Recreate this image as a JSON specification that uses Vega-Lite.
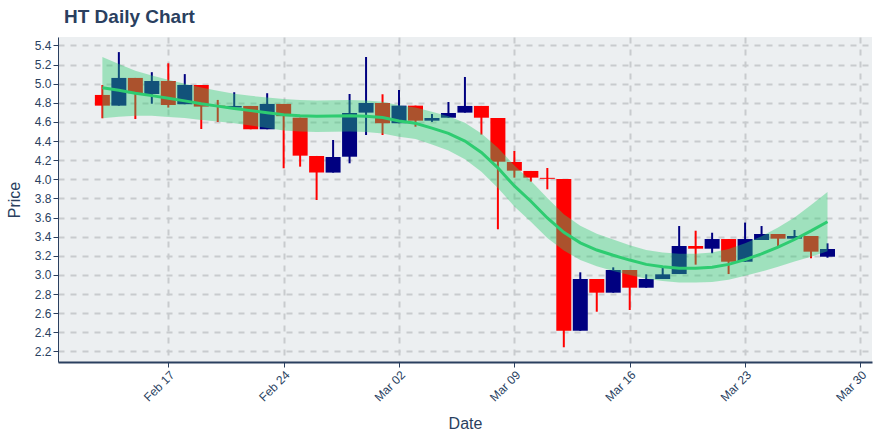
{
  "$schema": "https://vega.github.io/schema/vega-lite/v6.json",
  "autosize": "none",
  "width": 814,
  "height": 325,
  "padding": {"left": 58, "top": 37, "right": 8, "bottom": 78},
  "background": "white",
  "title": {"text": "HT Daily Chart", "anchor": "start", "frame": "group", "offset": 10, "dx": 6, "fontSize": 19, "fontWeight": "bold", "color": "#2a3f5f", "font": "Liberation Sans"},
  "config": {
    "view": {"fill": "#ECEFF1", "stroke": null},
    "axis": {"labelFont": "Liberation Sans", "titleFont": "Liberation Sans", "labelFontSize": 12, "labelColor": "#2a3f5f", "titleColor": "#2a3f5f", "titleFontSize": 16, "titleFontWeight": "normal", "domainColor": "#2a3f5f", "tickColor": "#2a3f5f", "gridColor": "#C8CBCE", "gridDash": [6, 6], "gridWidth": 2, "tickSize": 5, "labelOverlap": false},
    "axisY": {"labelOverlap": false, "labelFontSize": 12},
    "axisQuantitative": {"labelOverlap": false}
  },
  "datasets": {
    "ohlc": [
      {"date": "2020-02-13", "open": 4.882, "high": 4.986, "low": 4.638, "close": 4.77},
      {"date": "2020-02-14", "open": 4.77, "high": 5.33, "low": 4.77, "close": 5.06},
      {"date": "2020-02-15", "open": 5.06, "high": 5.06, "low": 4.63, "close": 4.9},
      {"date": "2020-02-16", "open": 4.892, "high": 5.12, "low": 4.79, "close": 5.028},
      {"date": "2020-02-17", "open": 5.028, "high": 5.213, "low": 4.75, "close": 4.777},
      {"date": "2020-02-18", "open": 4.785, "high": 5.1, "low": 4.785, "close": 4.986},
      {"date": "2020-02-19", "open": 4.986, "high": 4.986, "low": 4.526, "close": 4.76},
      {"date": "2020-02-20", "open": 4.77, "high": 4.83, "low": 4.6, "close": 4.765},
      {"date": "2020-02-21", "open": 4.75, "high": 4.91, "low": 4.75, "close": 4.767},
      {"date": "2020-02-22", "open": 4.767, "high": 4.767, "low": 4.523, "close": 4.523},
      {"date": "2020-02-23", "open": 4.523, "high": 4.9, "low": 4.523, "close": 4.788},
      {"date": "2020-02-24", "open": 4.788, "high": 4.788, "low": 4.115, "close": 4.66},
      {"date": "2020-02-25", "open": 4.644, "high": 4.644, "low": 4.132, "close": 4.247},
      {"date": "2020-02-26", "open": 4.244, "high": 4.244, "low": 3.783, "close": 4.07},
      {"date": "2020-02-27", "open": 4.07, "high": 4.411, "low": 4.07, "close": 4.233},
      {"date": "2020-02-28", "open": 4.236, "high": 4.892, "low": 4.167, "close": 4.693},
      {"date": "2020-02-29", "open": 4.697, "high": 5.279, "low": 4.463, "close": 4.798},
      {"date": "2020-03-01", "open": 4.798, "high": 4.889, "low": 4.463, "close": 4.586},
      {"date": "2020-03-02", "open": 4.586, "high": 4.934, "low": 4.586, "close": 4.77},
      {"date": "2020-03-03", "open": 4.77, "high": 4.77, "low": 4.55, "close": 4.613},
      {"date": "2020-03-04", "open": 4.613, "high": 4.683, "low": 4.6, "close": 4.641},
      {"date": "2020-03-05", "open": 4.644, "high": 4.808, "low": 4.644, "close": 4.693},
      {"date": "2020-03-06", "open": 4.697, "high": 5.07, "low": 4.697, "close": 4.767},
      {"date": "2020-03-07", "open": 4.767, "high": 4.767, "low": 4.467, "close": 4.644},
      {"date": "2020-03-08", "open": 4.641, "high": 4.641, "low": 3.477, "close": 4.184},
      {"date": "2020-03-09", "open": 4.181, "high": 4.296, "low": 4.017, "close": 4.09},
      {"date": "2020-03-10", "open": 4.087, "high": 4.087, "low": 3.975, "close": 4.017},
      {"date": "2020-03-11", "open": 4.015, "high": 4.118, "low": 3.895, "close": 4.005},
      {"date": "2020-03-12", "open": 4.003, "high": 4.003, "low": 2.243, "close": 2.416},
      {"date": "2020-03-13", "open": 2.416, "high": 3.027, "low": 2.416, "close": 2.957},
      {"date": "2020-03-14", "open": 2.957, "high": 2.957, "low": 2.615, "close": 2.814},
      {"date": "2020-03-15", "open": 2.814, "high": 3.079, "low": 2.814, "close": 3.051},
      {"date": "2020-03-16", "open": 3.051, "high": 3.051, "low": 2.633, "close": 2.866},
      {"date": "2020-03-17", "open": 2.866, "high": 3.006, "low": 2.866, "close": 2.957},
      {"date": "2020-03-18", "open": 2.957, "high": 3.075, "low": 2.957, "close": 3.006},
      {"date": "2020-03-19", "open": 3.009, "high": 3.511, "low": 3.009, "close": 3.302},
      {"date": "2020-03-20", "open": 3.302, "high": 3.462, "low": 3.107, "close": 3.274},
      {"date": "2020-03-21", "open": 3.274, "high": 3.441, "low": 3.226, "close": 3.375},
      {"date": "2020-03-22", "open": 3.375, "high": 3.375, "low": 3.009, "close": 3.138},
      {"date": "2020-03-23", "open": 3.138, "high": 3.547, "low": 3.138, "close": 3.375},
      {"date": "2020-03-24", "open": 3.365, "high": 3.511, "low": 3.365, "close": 3.428},
      {"date": "2020-03-25", "open": 3.428, "high": 3.428, "low": 3.295, "close": 3.379},
      {"date": "2020-03-26", "open": 3.379, "high": 3.47, "low": 3.379, "close": 3.407},
      {"date": "2020-03-27", "open": 3.407, "high": 3.407, "low": 3.174, "close": 3.243},
      {"date": "2020-03-28", "open": 3.19, "high": 3.33, "low": 3.18, "close": 3.271}
    ],
    "fit": [
      {"date": "2020-02-13", "mid": 4.958, "lo": 4.638, "hi": 5.278},
      {"date": "2020-02-14", "mid": 4.93, "lo": 4.655, "hi": 5.205},
      {"date": "2020-02-15", "mid": 4.9, "lo": 4.665, "hi": 5.135},
      {"date": "2020-02-16", "mid": 4.875, "lo": 4.665, "hi": 5.085},
      {"date": "2020-02-17", "mid": 4.847, "lo": 4.652, "hi": 5.042},
      {"date": "2020-02-18", "mid": 4.82, "lo": 4.64, "hi": 5.0},
      {"date": "2020-02-19", "mid": 4.79, "lo": 4.62, "hi": 4.96},
      {"date": "2020-02-20", "mid": 4.765, "lo": 4.605, "hi": 4.925},
      {"date": "2020-02-21", "mid": 4.74, "lo": 4.585, "hi": 4.895},
      {"date": "2020-02-22", "mid": 4.718, "lo": 4.563, "hi": 4.873},
      {"date": "2020-02-23", "mid": 4.695, "lo": 4.535, "hi": 4.855},
      {"date": "2020-02-24", "mid": 4.675, "lo": 4.51, "hi": 4.84},
      {"date": "2020-02-25", "mid": 4.665, "lo": 4.5, "hi": 4.83},
      {"date": "2020-02-26", "mid": 4.66, "lo": 4.495, "hi": 4.825},
      {"date": "2020-02-27", "mid": 4.662, "lo": 4.497, "hi": 4.827},
      {"date": "2020-02-28", "mid": 4.665, "lo": 4.5, "hi": 4.83},
      {"date": "2020-02-29", "mid": 4.66, "lo": 4.495, "hi": 4.825},
      {"date": "2020-03-01", "mid": 4.645, "lo": 4.48, "hi": 4.81},
      {"date": "2020-03-02", "mid": 4.61, "lo": 4.445, "hi": 4.775},
      {"date": "2020-03-03", "mid": 4.585, "lo": 4.42, "hi": 4.75},
      {"date": "2020-03-04", "mid": 4.535, "lo": 4.365, "hi": 4.705},
      {"date": "2020-03-05", "mid": 4.48, "lo": 4.3, "hi": 4.66},
      {"date": "2020-03-06", "mid": 4.4, "lo": 4.21, "hi": 4.59},
      {"date": "2020-03-07", "mid": 4.28, "lo": 4.08, "hi": 4.48},
      {"date": "2020-03-08", "mid": 4.12, "lo": 3.91, "hi": 4.33},
      {"date": "2020-03-09", "mid": 3.93, "lo": 3.715, "hi": 4.145},
      {"date": "2020-03-10", "mid": 3.77, "lo": 3.555, "hi": 3.985},
      {"date": "2020-03-11", "mid": 3.595, "lo": 3.385, "hi": 3.805},
      {"date": "2020-03-12", "mid": 3.445, "lo": 3.255, "hi": 3.635},
      {"date": "2020-03-13", "mid": 3.335, "lo": 3.155, "hi": 3.515},
      {"date": "2020-03-14", "mid": 3.26, "lo": 3.09, "hi": 3.43},
      {"date": "2020-03-15", "mid": 3.205, "lo": 3.04, "hi": 3.37},
      {"date": "2020-03-16", "mid": 3.155, "lo": 3.0, "hi": 3.31},
      {"date": "2020-03-17", "mid": 3.11, "lo": 2.96, "hi": 3.26},
      {"date": "2020-03-18", "mid": 3.085, "lo": 2.935, "hi": 3.235},
      {"date": "2020-03-19", "mid": 3.07, "lo": 2.92, "hi": 3.22},
      {"date": "2020-03-20", "mid": 3.07, "lo": 2.92, "hi": 3.22},
      {"date": "2020-03-21", "mid": 3.08, "lo": 2.925, "hi": 3.235},
      {"date": "2020-03-22", "mid": 3.11, "lo": 2.95, "hi": 3.27},
      {"date": "2020-03-23", "mid": 3.16, "lo": 2.99, "hi": 3.33},
      {"date": "2020-03-24", "mid": 3.22, "lo": 3.035, "hi": 3.405},
      {"date": "2020-03-25", "mid": 3.29, "lo": 3.085, "hi": 3.495},
      {"date": "2020-03-26", "mid": 3.37, "lo": 3.14, "hi": 3.6},
      {"date": "2020-03-27", "mid": 3.46, "lo": 3.19, "hi": 3.73},
      {"date": "2020-03-28", "mid": 3.556, "lo": 3.246, "hi": 3.866}
    ]
  },
  "encoding": {
    "x": {
      "field": "date", "type": "temporal",
      "scale": {"type": "utc", "nice": false, "padding": 0, "domain": [{"year": 2020, "month": 2, "date": 10, "hours": 7, "minutes": 22, "utc": true}, {"year": 2020, "month": 3, "date": 30, "hours": 16, "minutes": 50, "utc": true}]},
      "axis": {
        "title": "Date", "labelExpr": "utcFormat(datum.value, '%b %d')", "labelAngle": -45, "titlePadding": 12, "labelOverlap": false,
        "values": [
          {"year": 2020, "month": 2, "date": 17, "utc": true},
          {"year": 2020, "month": 2, "date": 24, "utc": true},
          {"year": 2020, "month": 3, "date": 2, "utc": true},
          {"year": 2020, "month": 3, "date": 9, "utc": true},
          {"year": 2020, "month": 3, "date": 16, "utc": true},
          {"year": 2020, "month": 3, "date": 23, "utc": true},
          {"year": 2020, "month": 3, "date": 30, "utc": true}
        ],
        "domainWidth": 2
      }
    }
  },
  "layer": [
    {
      "data": {"name": "ohlc"},
      "mark": {"type": "rule", "strokeWidth": 2},
      "encoding": {
        "y": {"field": "low", "type": "quantitative", "scale": {"domain": [2.089, 5.488], "nice": false, "zero": false, "padding": 0},
          "axis": {"title": "Price", "values": [2.2, 2.4, 2.6, 2.8, 3.0, 3.2, 3.4, 3.6, 3.8, 4.0, 4.2, 4.4, 4.6, 4.8, 5.0, 5.2, 5.4], "labelExpr": "format(datum.value, '.1f')", "titlePadding": 12, "domainWidth": 1, "labelOverlap": false}},
        "y2": {"field": "high"},
        "color": {"condition": {"test": "datum.close >= datum.open", "value": "#000080"}, "value": "#FF0000"}
      }
    },
    {
      "data": {"name": "ohlc"},
      "mark": {"type": "bar", "size": 15},
      "encoding": {
        "y": {"field": "open", "type": "quantitative", "axis": {"title": "Price", "values": [2.2, 2.4, 2.6, 2.8, 3.0, 3.2, 3.4, 3.6, 3.8, 4.0, 4.2, 4.4, 4.6, 4.8, 5.0, 5.2, 5.4], "labelExpr": "format(datum.value, '.1f')", "titlePadding": 12, "domainWidth": 1, "labelOverlap": false}},
        "y2": {"field": "close"},
        "color": {"condition": {"test": "datum.close >= datum.open", "value": "#000080"}, "value": "#FF0000"}
      }
    },
    {
      "data": {"name": "fit"},
      "mark": {"type": "area", "color": "#2ECC71", "opacity": 0.4},
      "encoding": {
        "y": {"field": "lo", "type": "quantitative", "axis": {"title": "Price", "values": [2.2, 2.4, 2.6, 2.8, 3.0, 3.2, 3.4, 3.6, 3.8, 4.0, 4.2, 4.4, 4.6, 4.8, 5.0, 5.2, 5.4], "labelExpr": "format(datum.value, '.1f')", "titlePadding": 12, "domainWidth": 1, "labelOverlap": false}},
        "y2": {"field": "hi"}
      }
    },
    {
      "data": {"name": "fit"},
      "mark": {"type": "line", "color": "#2ECC71", "strokeWidth": 3},
      "encoding": {
        "y": {"field": "mid", "type": "quantitative", "axis": {"title": "Price", "values": [2.2, 2.4, 2.6, 2.8, 3.0, 3.2, 3.4, 3.6, 3.8, 4.0, 4.2, 4.4, 4.6, 4.8, 5.0, 5.2, 5.4], "labelExpr": "format(datum.value, '.1f')", "titlePadding": 12, "domainWidth": 1, "labelOverlap": false}}
      }
    }
  ]
}
